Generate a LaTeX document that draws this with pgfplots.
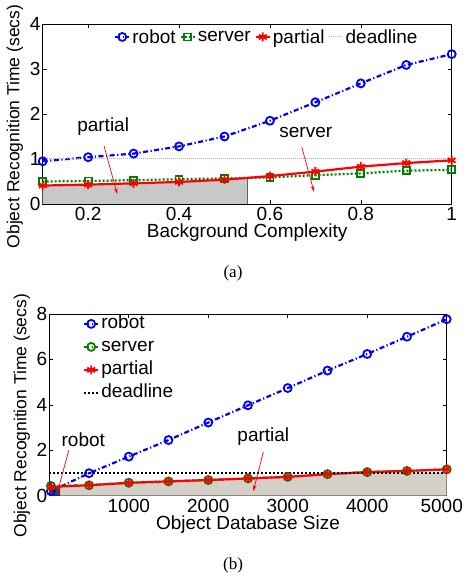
\documentclass[border=0pt]{standalone}
\usepackage{pgfplots}
\pgfplotsset{compat=1.18}
\usetikzlibrary{arrows.meta}
\usepackage{fontspec}
\setmainfont{Liberation Sans}
\newfontfamily\serifcap{Liberation Serif}
\definecolor{mblue}{rgb}{0,0,1}
\definecolor{mgreen}{rgb}{0,0.5,0}
\definecolor{mred}{rgb}{1,0,0}
\definecolor{fillA}{HTML}{C8C8C8}
\definecolor{fillB}{HTML}{D4D0C8}
\definecolor{fillDark}{HTML}{404040}
\definecolor{edgeA}{HTML}{606060}
\definecolor{dlgray}{HTML}{B0B0B0}
\pgfplotsset{
 mystyle/.style={
  scale only axis,
  font=\fontsize{19}{22}\selectfont,
  /pgf/number format/assume math mode=true,
  /pgf/number format/set thousands separator={},
  scaled x ticks=false, scaled y ticks=false,
  tick align=inside, tick pos=both,
  major tick length=4pt,
  axis line style={line width=0.8pt},
  every tick/.style={black, line width=0.6pt},
  yticklabel style={inner xsep=2pt},
  xticklabel style={inner ysep=3pt},
  ylabel style={font=\fontsize{17.5}{20}\selectfont},
  legend style={draw=none, fill=none, font=\fontsize{19}{22}\selectfont},
  legend image code/.code={\draw[mark repeat=2,mark phase=2] plot coordinates {(0pt,0pt)(7pt,0pt)(14pt,0pt)};},
 },
 dashdotm/.style={dash pattern=on 5pt off 2.5pt on 1.2pt off 2.5pt},
 dotm/.style={dash pattern=on 2pt off 2pt},
}
\tikzset{annarrow/.style={mred, line width=0.7pt, -{Stealth[length=6pt,width=3.5pt]}}}
\begin{document}
\begin{tikzpicture}[x=1pt,y=1pt]
\useasboundingbox (0,0) rectangle (466,577);
% ---------------- (a)
\begin{axis}[mystyle,
  at={(42.7pt,373pt)}, anchor=south west,
  width=409pt, height=180pt,
  xmin=0.1, xmax=1, ymin=0, ymax=4,
  xtick={0.2,0.4,0.6,0.8,1}, ytick={0,1,2,3,4},
  xlabel={Background Complexity},
  ylabel={Object Recognition Time (secs)},
  xlabel style={at={(axis description cs:0.5,0)}, anchor=center, yshift=-29pt},
  ylabel style={at={(axis description cs:-0.068,0.43)}, anchor=center},
  legend columns=4,
  legend style={at={(axis description cs:0.548,0.928)}, anchor=center,
    /tikz/every even column/.append style={column sep=2pt}},
]
\addplot[fill=fillA, draw=none, forget plot] coordinates {(0.1,0.41)(0.2,0.43)(0.3,0.46)(0.4,0.49)(0.5,0.54)(0.55,0.58)} \closedcycle;
\addplot[edgeA, line width=0.8pt, forget plot] coordinates {(0.55,0)(0.55,0.58)};
\addplot[mblue, line width=2.2pt, dashdotm, mark=o, mark size=4pt, mark options={solid, line width=1.8pt}]
  coordinates {(0.1,0.95)(0.2,1.04)(0.3,1.12)(0.4,1.28)(0.5,1.50)(0.6,1.85)(0.7,2.26)(0.8,2.68)(0.9,3.09)(1.0,3.33)};
\addlegendentry{robot}
\addplot[mgreen, line width=2.2pt, dotm, mark=square, mark size=3.5pt, mark options={solid, line width=1.8pt}]
  coordinates {(0.1,0.50)(0.2,0.51)(0.3,0.53)(0.4,0.55)(0.5,0.57)(0.6,0.59)(0.7,0.64)(0.8,0.68)(0.9,0.74)(1.0,0.76)};
\addlegendentry{server}
\addplot[mred, line width=2.2pt, mark=asterisk, mark size=4.5pt, mark options={solid, line width=1.8pt}]
  coordinates {(0.1,0.41)(0.2,0.43)(0.3,0.46)(0.4,0.49)(0.5,0.54)(0.6,0.62)(0.7,0.72)(0.8,0.83)(0.9,0.91)(1.0,0.97)};
\addlegendentry{partial}
\addplot[dlgray, line width=1pt, dash pattern=on 1pt off 1pt]
  coordinates {(0.1,1)(1,1)};
\addlegendentry{deadline}
\node[font=\fontsize{19}{22}\selectfont] at (axis cs:0.233,1.73) {partial};
\draw[annarrow] (axis cs:0.235,1.29) -- (axis cs:0.264,0.22);
\node[font=\fontsize{19}{22}\selectfont] at (axis cs:0.679,1.58) {server};
\draw[annarrow] (axis cs:0.67,1.27) -- (axis cs:0.697,0.27);
\end{axis}
\node[font=\serifcap\fontsize{17}{19}\selectfont] at (233,304) {(a)};
% ---------------- (b)
\begin{axis}[mystyle,
  at={(49.3pt,81.3pt)}, anchor=south west,
  width=397.4pt, height=181.7pt,
  xmin=0, xmax=5000, ymin=0, ymax=8,
  xtick={1000,2000,3000,4000,5000}, ytick={0,2,4,6,8},
  xticklabels={1000,2000,3000,4000,\hspace*{-10pt}5000},
  xlabel={Object Database Size},
  ylabel={Object Recognition Time (secs)},
  xlabel style={at={(axis description cs:0.5,0)}, anchor=center, yshift=-29pt},
  ylabel style={at={(axis description cs:-0.069,0.44)}, anchor=center},
  legend style={at={(axis description cs:0.077,1.01)}, anchor=north west,
    nodes={text height=13pt, text depth=4pt, inner ysep=1pt}, row sep=4pt},
  legend cell align=left,
]
\addplot[fill=fillB, draw=none, forget plot] coordinates {(135,0.40)(500,0.46)(1000,0.57)(1500,0.62)(2000,0.68)(2500,0.75)(3000,0.82)(3500,0.93)(3780,1.0)(5000,1.0)} \closedcycle;
\addplot[fill=fillDark, draw=none, forget plot] coordinates {(0,0.37)(135,0.38)} \closedcycle;
\addplot[mblue, line width=2.2pt, dashdotm, mark=o, mark size=4pt, mark options={solid, line width=1.8pt}]
  coordinates {(20,0.20)(500,0.99)(1000,1.72)(1500,2.45)(2000,3.22)(2500,3.98)(3000,4.74)(3500,5.51)(4000,6.24)(4500,7.00)(5000,7.77)};
\addlegendentry{robot}
\addplot[mgreen, line width=2.2pt, dashdotm, mark=o, mark size=4pt, mark options={solid, line width=1.8pt}]
  coordinates {(20,0.43)(500,0.46)(1000,0.57)(1500,0.63)(2000,0.69)(2500,0.76)(3000,0.83)(3500,0.95)(4000,1.04)(4500,1.09)(5000,1.16)};
\addlegendentry{server}
\addplot[mred, line width=2.2pt, mark=asterisk, mark size=4.5pt, mark options={solid, line width=1.8pt}]
  coordinates {(20,0.39)(500,0.46)(1000,0.57)(1500,0.63)(2000,0.69)(2500,0.76)(3000,0.83)(3500,0.95)(4000,1.04)(4500,1.09)(5000,1.16)};
\addlegendentry{partial}
\addplot[black, line width=2pt, dotm]
  coordinates {(0,1)(5000,1)};
\addlegendentry{deadline}
\node[font=\fontsize{19}{22}\selectfont] at (axis cs:428,2.48) {robot};
\draw[annarrow] (axis cs:245,2.0) -- (axis cs:105,0.18);
\node[font=\fontsize{19}{22}\selectfont] at (axis cs:2693,2.6) {partial};
\draw[annarrow] (axis cs:2693,1.93) -- (axis cs:2567,0.2);
\end{axis}
\node[font=\serifcap\fontsize{17}{19}\selectfont] at (233,11.3) {(b)};
\end{tikzpicture}
\end{document}
